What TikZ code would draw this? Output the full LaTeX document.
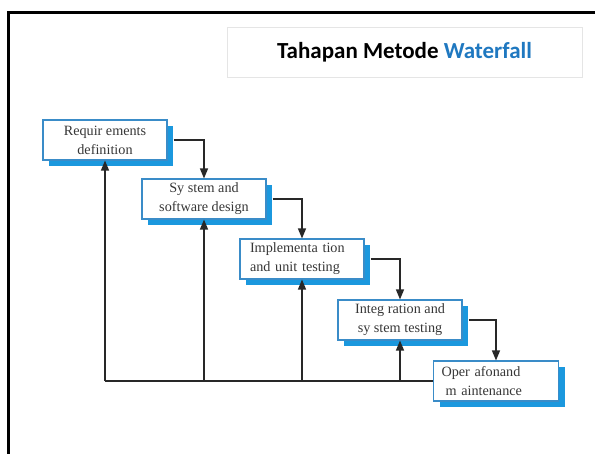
\documentclass[tikz,border=0pt]{standalone}
\usepackage{fontspec}
\setmainfont{Liberation Serif}
\newfontfamily\titlefont{Carlito}
\usetikzlibrary{arrows.meta,shadows,positioning}
\definecolor{boxedge}{RGB}{58,140,200}
\definecolor{boxshade}{RGB}{27,152,222}
\definecolor{titleblue}{RGB}{31,120,192}
\definecolor{labelgray}{RGB}{55,55,55}
\definecolor{linegray}{RGB}{40,40,40}
\tikzset{
  phase/.style={draw=boxedge, line width=1.1pt, fill=white,
    minimum width=124pt, minimum height=40pt, inner sep=0pt,
    font=\fontsize{14.2}{19}\selectfont, text=labelgray,
    drop shadow={shadow xshift=6pt, shadow yshift=-6pt,
      fill=boxshade, opacity=1}},
  flow/.style={draw=linegray, line width=1.3pt,
    -{Triangle[length=10pt,width=8pt]}},
  feed/.style={draw=linegray, line width=1.3pt}
}
\begin{document}
\begin{tikzpicture}[x=1pt,y=-1pt]
  \useasboundingbox (0,0) rectangle (595,453);
  % page frame, top and left edges
  \draw[line width=3pt, line cap=rect] (8,453) -- (8,12) -- (596,12);
  % title banner
  \node (title) [draw=gray!20, line width=1pt, minimum width=355pt,
    minimum height=50pt, inner sep=0pt,
    font=\titlefont\bfseries\fontsize{23}{27}\selectfont]
    at (404.5,52) {Tahapan Metode \textcolor{titleblue}{Waterfall}};
  % phases
  \node (b1) [phase, align=center] at (105,140)
    {Requir ements\\definition};
  \node (b2) [phase, align=center] at (204,199)
    {Sy stem and\\software design};
  \node (b3) [phase, align=left, text width=104pt, inner xsep=10pt] at (302,259)
    {Implementa tion\\and unit testing};
  \node (b4) [phase, align=center] at (400,320)
    {Integ ration and\\sy stem testing};
  \node (b5) [phase, align=left, text width=109pt, inner xsep=8pt] at (496,381)
    {Oper afonand\\\hspace*{4pt}m aintenance};
  % forward flow
  \draw[flow] ([xshift=6pt]b1.east) -| (b2.north);
  \draw[flow] ([xshift=6pt]b2.east) -| (b3.north);
  \draw[flow] ([xshift=6pt]b3.east) -| (b4.north);
  \draw[flow] ([xshift=6pt]b4.east) -| (b5.north);
  % feedback to earlier phases
  \draw[feed] (b5.west) -- (b5.west -| b1.south);
  \draw[flow] (b5.west -| b1.south) -- (b1.south);
  \draw[flow] (b5.west -| b2.south) -- (b2.south);
  \draw[flow] (b5.west -| b3.south) -- (b3.south);
  \draw[flow] (b5.west -| b4.south) -- (b4.south);
\end{tikzpicture}
\end{document}
